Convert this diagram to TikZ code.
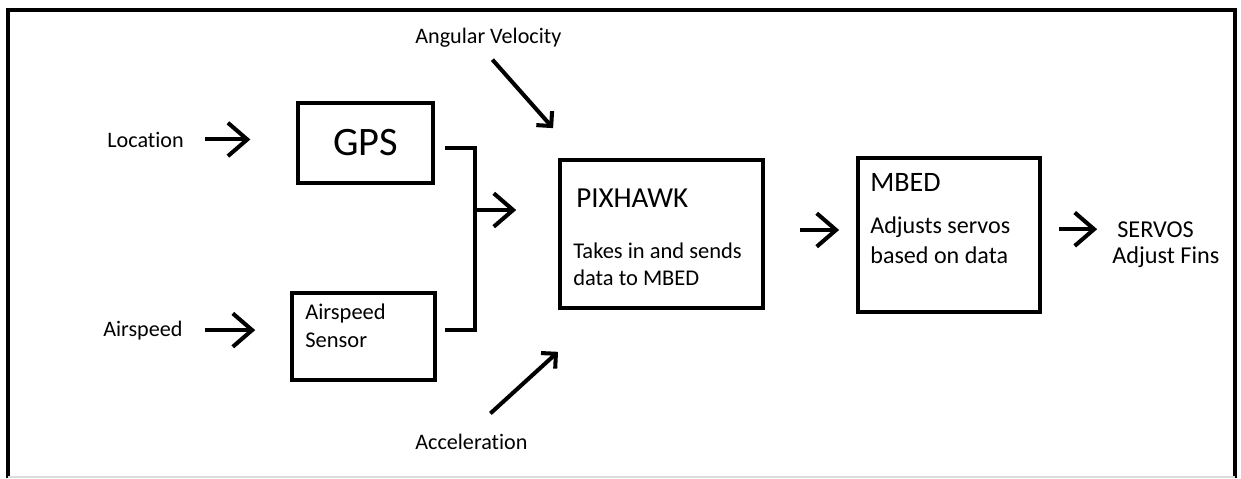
\documentclass[tikz,border=0pt]{standalone}
\usepackage{fontspec}
\setmainfont[Ligatures=NoCommon]{Carlito}
\usepackage{tikz}
\usetikzlibrary{arrows.meta,positioning,calc}
\definecolor{edgegray}{HTML}{DDDDDD}
\tikzset{
  arr/.style={-{Straight Barb[length=11pt,width=19pt]},line width=2.3pt},
  darr/.style={-{Straight Barb[length=6pt,width=12pt]},line width=2.3pt},
  box/.style={rectangle,draw,line width=2.3pt,inner sep=0pt},
  lbl/.style={inner sep=0pt,anchor=base west,font=\fontsize{12.6}{15}\selectfont},
  txt/.style={inner sep=0pt,align=left,font=\fontsize{12.8}{15.4}\selectfont},
  ttl/.style={inner sep=0pt,font=\fontsize{16.5}{19}\selectfont},
}

\begin{document}
\begin{tikzpicture}[
  x=0.02cm,y=-0.02cm,
  bar/.style={line width=2.3pt},
]
\useasboundingbox (0,0) rectangle (1241,478);

% frame
\draw[line width=2.2pt] (8,478) -- (8,10) -- (1235,10) -- (1235,478);
\draw[edgegray,line width=0.8pt] (8,477) -- (1235,477);

% GPS (left-top)
\node[box,minimum width=2.7cm,minimum height=1.6cm,
  font=\fontsize{23}{27}\selectfont] (gps) at (365.5,143) {GPS};

% AIRSPEED SENSOR (left-bottom)
\node[box,minimum width=2.86cm,minimum height=1.74cm] (air) at (363.5,336.5) {};
\node[txt,below right=7.4pt and 8.5pt of air.north west] (airT) {Airspeed\\Sensor};

% PIXHAWK (centre)
\node[box,minimum width=4.06cm,minimum height=2.96cm] (pix) at (661.5,234) {};
\node[ttl,below right=17.3pt and 10.2pt of pix.north west] (pixT) {PIXHAWK};
\node[txt,below right=48pt and 8.5pt of pix.north west] (pixB) {Takes in and sends\\data to MBED};

% MBED (right)
\node[box,minimum width=3.64cm,minimum height=3.08cm] (mbed) at (949,235) {};
\node[ttl,font=\fontsize{16}{19}\selectfont,
  below right=10pt and 8pt of mbed.north west] (mbT) {MBED};
\node[txt,font=\fontsize{13.7}{17}\selectfont,
  below right=34.6pt and 8pt of mbed.north west] (mbB) {Adjusts servos\\based on data};

% inputs and outputs
\node[lbl] (loc) at (107,147) {Location};
\node[lbl] (airl) at (103,336) {Airspeed};
\node[lbl] (angv) at (415,43) {Angular Velocity};
\node[lbl] (acc) at (415,449) {Acceleration};
\node[lbl,font=\fontsize{13.8}{16}\selectfont] (servos) at (1117,237) {SERVOS};
\node[lbl,font=\fontsize{13.8}{16}\selectfont] (fins) at (1112,263) {Adjust Fins};

% connectors
\draw[arr,shorten <=11.9pt,shorten >=26pt] (loc.east) -- (loc.east -| gps.west);
\draw[arr,shorten <=12.5pt,shorten >=19.8pt] (airl.east) -- (airl.east -| air.west);
\draw[bar] ([xshift=5.7pt,yshift=-2.8pt]gps.east)
  -| ([xshift=21.5pt,yshift=3.7pt]air.east) -- ([xshift=4.5pt,yshift=3.7pt]air.east);
\coordinate (join) at (473,210);
\draw[arr,shorten >=23.8pt] (join) -- (join -| pix.west);
\draw[darr] ([xshift=2.3pt,yshift=-7.1pt]angv.south) -- ([xshift=-2.8pt,yshift=17pt]pix.north west);
\draw[darr] ([xshift=10.8pt,yshift=11.3pt]acc.north) -- ([yshift=-23.8pt]pix.south west);
\draw[arr,shorten <=19.8pt,shorten >=9.6pt] ([yshift=2.3pt]pix.east) -- ([yshift=2.3pt]pix.east -| mbed.west);
\draw[arr,shorten <=9.6pt,shorten >=11.3pt] (mbed.east |- servos.west) -- (servos.west);
\end{tikzpicture}
\end{document}
